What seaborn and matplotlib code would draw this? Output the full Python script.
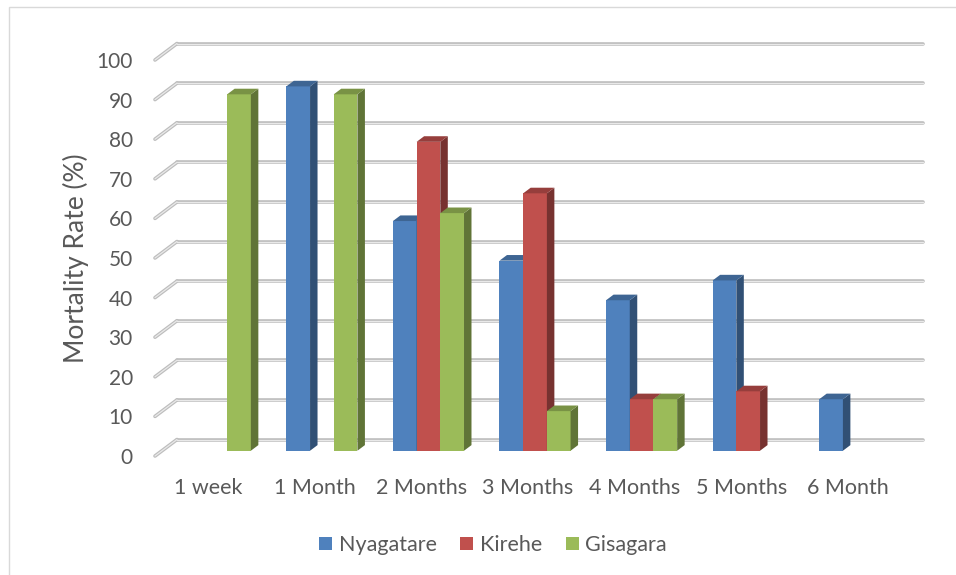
import numpy as np
import pandas as pd
import matplotlib
matplotlib.use("Agg")
import matplotlib.pyplot as plt
from matplotlib.patches import Polygon, Patch, Rectangle
import seaborn as sns

# Mortality rate (%) by age period and district
categories = ["1 week", "1 Month", "2 Months", "3 Months", "4 Months", "5 Months", "6 Month"]
districts = ["Nyagatare", "Kirehe", "Gisagara"]
nyagatare = [np.nan, 92, 58, 48, 38, 43, 13]
kirehe = [np.nan, np.nan, 78, 65, 13, 15, np.nan]
gisagara = [90, 90, 60, 10, 13, np.nan, np.nan]
y_ticks = list(range(0, 101, 10))

colors = ["#4F81BD", "#C0504D", "#9BBB59"]
text_color = "#595959"

df = pd.DataFrame({
    "period": categories * 3,
    "district": sum([[d] * len(categories) for d in districts], []),
    "rate": nyagatare + kirehe + gisagara,
}).dropna()

sns.set_style("white")
plt.rcParams["font.family"] = ["Lato", "DejaVu Sans"]

W, H, DPI = 956, 575, 100
fig = plt.figure(figsize=(W / DPI, H / DPI), dpi=DPI)

# front plane of the 3D box (pixels)
left_px, right_px, top_px, bottom_px = 155, 901, 60, 456
ax = fig.add_axes([left_px / W, 1 - bottom_px / H,
                   (right_px - left_px) / W, (bottom_px - top_px) / H])

sns.barplot(data=df, x="period", y="rate", hue="district", order=categories,
            hue_order=districts, palette=colors, width=0.667, saturation=1,
            errorbar=None, legend=False, ax=ax)

ax.set_xlim(-0.5, len(categories) - 0.5)
ax.set_ylim(0, 100)

# depth of the box, in data units
sx = len(categories) / (right_px - left_px)
sy = 100 / (bottom_px - top_px)
Dx, Dy = 22 * sx, 16.5 * sy
f_front, f_depth = 0.32, 0.34

# back wall gridlines and left wall diagonals
for v in y_ticks:
    xs_back = [-0.5 + Dx, len(categories) - 0.5 + Dx]
    ys_back = [v + Dy, v + Dy]
    xs_diag = [-0.5, -0.5 + Dx]
    ys_diag = [v, v + Dy]
    for xs, ys in ((xs_back, ys_back), (xs_diag, ys_diag)):
        ax.plot(xs, ys, color="#BDBDBD", lw=2.6, solid_capstyle="round",
                clip_on=False, zorder=1)
        ax.plot(xs, ys, color="#E9E9E9", lw=0.9, solid_capstyle="round",
                clip_on=False, zorder=1.1)


def shade(c, k):
    r, g, b = matplotlib.colors.to_rgb(c)
    return (r * k, g * k, b * k)


# extrude bars into the box
bars = sorted([p for p in ax.patches if isinstance(p, Rectangle)], key=lambda p: p.get_x())
ox, oy = f_front * Dx, f_front * Dy
ddx, ddy = f_depth * Dx, f_depth * Dy
for i, p in enumerate(bars):
    z = 3 + i * 0.01
    fc = p.get_facecolor()
    p.set_x(p.get_x() + ox)
    p.set_y(p.get_y() + oy)
    p.set_edgecolor("none")
    p.set_zorder(z)
    p.set_clip_on(False)
    x0, x1 = p.get_x(), p.get_x() + p.get_width()
    y0, y1 = p.get_y(), p.get_y() + p.get_height()
    side = Polygon([(x1, y0), (x1 + ddx, y0 + ddy), (x1 + ddx, y1 + ddy), (x1, y1)],
                   closed=True, facecolor=shade(fc, 0.62), edgecolor="none",
                   zorder=z, clip_on=False)
    top = Polygon([(x0, y1), (x1, y1), (x1 + ddx, y1 + ddy), (x0 + ddx, y1 + ddy)],
                  closed=True, facecolor=shade(fc, 0.78), edgecolor="none",
                  zorder=z, clip_on=False)
    ax.add_patch(side)
    ax.add_patch(top)

for s in ax.spines.values():
    s.set_visible(False)
ax.grid(False)
ax.set_yticks(y_ticks)
ax.set_yticklabels([str(t) for t in y_ticks])
ax.tick_params(axis="y", length=0, pad=16, labelsize=15, labelcolor=text_color)
ax.tick_params(axis="x", length=0, pad=15.5, labelsize=15.5, labelcolor=text_color)
ax.set_xlabel("")
ax.set_ylabel("Mortality Rate (%)", fontsize=19, color=text_color)
ax.yaxis.set_label_coords((89 - left_px) / (right_px - left_px), 0.5)

handles = [Patch(facecolor=c, edgecolor="none", label=d) for c, d in zip(colors, districts)]
fig.legend(handles=handles, loc="center", bbox_to_anchor=(493 / W, 1 - 545 / H),
           ncol=3, frameon=False, fontsize=15.5, handlelength=0.6, handleheight=0.6,
           handletextpad=0.3, columnspacing=1.1, labelcolor=text_color)

# chart area border
fig.patches.append(Rectangle((9 / W, -0.1), 1.2, 1.1 - 7 / H, transform=fig.transFigure,
                             fill=False, edgecolor="#D9D9D9", lw=1))

fig.savefig("out.png", dpi=DPI, facecolor="white")
